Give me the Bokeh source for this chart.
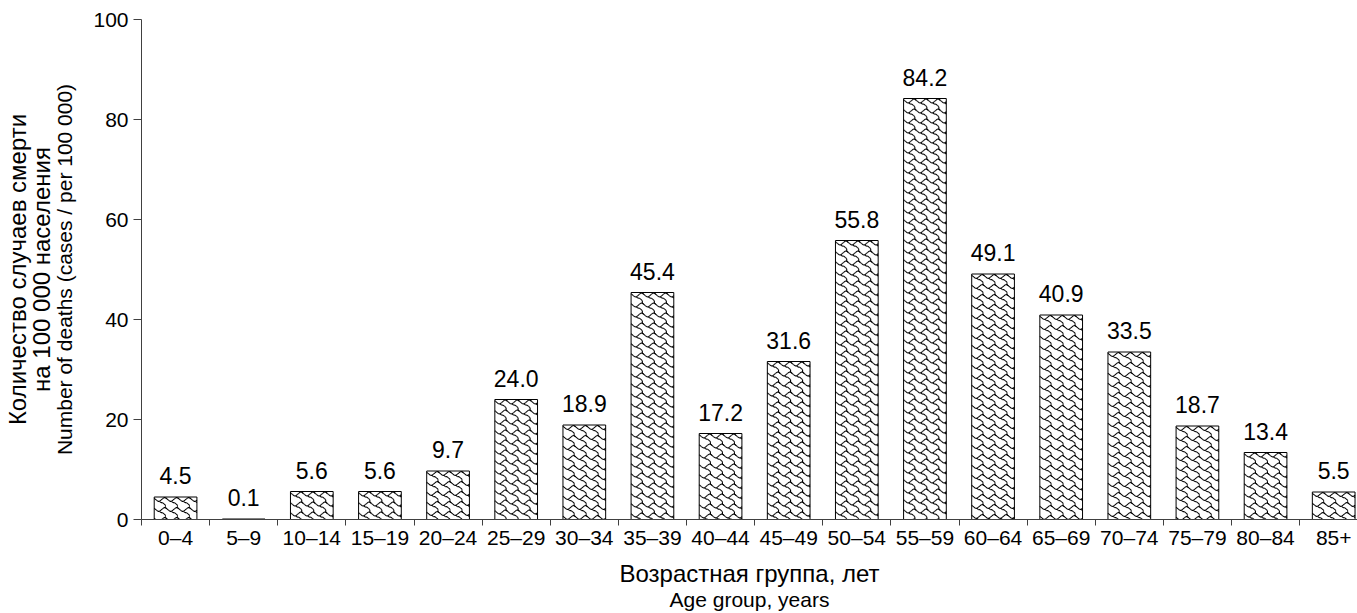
import math
from bokeh.plotting import figure
from bokeh.models import ColumnDataSource, Range1d, FixedTicker, LabelSet, Title
from bokeh.core.properties import value
from bokeh.embed import file_html
from bokeh.resources import INLINE

# ---- data ----
age_groups = ["0–4", "5–9", "10–14", "15–19", "20–24", "25–29", "30–34", "35–39",
              "40–44", "45–49", "50–54", "55–59", "60–64", "65–69", "70–74", "75–79",
              "80–84", "85+"]
death_rates = [4.5, 0.1, 5.6, 5.6, 9.7, 24.0, 18.9, 45.4, 17.2, 31.6,
               55.8, 84.2, 49.1, 40.9, 33.5, 18.7, 13.4, 5.5]
y_ticks = [0, 20, 40, 60, 80, 100]

y_title_ru_1 = "Количество случаев смерти"
y_title_ru_2 = "на 100 000 населения"
y_title_en = "Number of deaths (cases / per 100 000)"
x_title_ru = "Возрастная группа, лет"
x_title_en = "Age group, years"

FONT = "Liberation Sans"
AXIS_COLOR = "#404040"

# ---- layout constants ----
W, H = 1357, 613
LEFT, TOP, BOTTOM = 141, 19, 94
CAT_PX = 68.125                       # pixels per category
FRAME_W = W - LEFT
FRAME_H = H - TOP - BOTTOM
X_END = FRAME_W / CAT_PX
Y_MAX = 100
PX_PER_Y = FRAME_H / Y_MAX
BAR_W = 0.627

n = len(age_groups)
centers = [i + 0.5 for i in range(n)]
boundaries = list(range(n + 1))


# ---- shingle fill pattern, built per bar in pixel space and mapped to data ----
_wave = [(-0.5, 0.5), (0.5, 1.5), (1.5, 2.5), (2.5, 3.5), (3.5, 3.5), (4.5, 2.5),
         (5.5, 1.5), (6.5, 0.5), (7.5, 0.5), (8.5, 1.5)]
_tail = [(3.5, 3.5), (4.5, 4.5), (5.5, 4.5), (6.5, 5.5), (7.5, 6.5), (7.5, 7.5),
         (7.5, 8.5)]
TILE_W, TILE_H = 12.0, 10.0
_segs = []
for _line in (_wave, _tail):
    for (a0, b0), (a1, b1) in zip(_line[:-1], _line[1:]):
        _segs.append((a0 * TILE_W / 8, b0 * TILE_H / 8, a1 * TILE_W / 8, b1 * TILE_H / 8))


def _clip(x0, y0, x1, y1, w, h):
    dx, dy = x1 - x0, y1 - y0
    t0, t1 = 0.0, 1.0
    for pp, qq in ((-dx, x0), (dx, w - x0), (-dy, y0), (dy, h - y0)):
        if pp == 0:
            if qq < 0:
                return None
        else:
            r = qq / pp
            if pp < 0:
                t0 = max(t0, r)
            else:
                t1 = min(t1, r)
            if t0 > t1:
                return None
    return (x0 + t0 * dx, y0 + t0 * dy, x0 + t1 * dx, y0 + t1 * dy)


pat_xs, pat_ys = [], []
for c, v in zip(centers, death_rates):
    bw = BAR_W * CAT_PX
    bh = v * PX_PER_Y
    if bh < 2:
        continue
    left_data = c - BAR_W / 2
    nx = int(math.ceil(bw / TILE_W)) + 1
    ny = int(math.ceil(bh / TILE_H)) + 1
    for ty in range(ny):
        for tx in range(nx):
            ox, oy = tx * TILE_W, ty * TILE_H
            for (x0, y0, x1, y1) in _segs:
                s = _clip(ox + x0, oy + y0, ox + x1, oy + y1, bw, bh)
                if s is None:
                    continue
                pat_xs.append([left_data + s[0] / CAT_PX, left_data + s[2] / CAT_PX])
                pat_ys.append([v - s[1] / PX_PER_Y, v - s[3] / PX_PER_Y])

src = ColumnDataSource(dict(
    x=centers,
    top=death_rates,
    label=[f"{v:.1f}" for v in death_rates],
))

p = figure(width=W, height=H, output_backend="svg", toolbar_location=None,
           x_range=Range1d(0, X_END), y_range=Range1d(0, Y_MAX),
           min_border_left=LEFT, min_border_top=TOP, min_border_right=0,
           min_border_bottom=BOTTOM)
p.outline_line_color = None
p.grid.visible = False
p.background_fill_color = "white"
p.border_fill_color = "white"

p.vbar(x="x", top="top", bottom=0, width=BAR_W, source=src,
       fill_color="white", line_color=None)
p.multi_line(xs=pat_xs, ys=pat_ys, line_color="black", line_width=1.1)
p.vbar(x="x", top="top", bottom=0, width=BAR_W, source=src,
       fill_color=None, line_color="black", line_width=1)

labels = LabelSet(x="x", y="top", text="label", source=src,
                  text_align="center", text_baseline="alphabetic", y_offset=13,
                  text_font=value(FONT), text_font_size=value("23px"),
                  text_color="black")
p.add_layout(labels)

# x axis
xa = p.xaxis[0]
xa.ticker = FixedTicker(ticks=centers, minor_ticks=boundaries)
xa.major_label_overrides = {c: lab for c, lab in zip(centers, age_groups)}
xa.major_tick_line_color = None
xa.major_tick_out = 0
xa.major_tick_in = 0
xa.minor_tick_out = 6
xa.minor_tick_in = 0
xa.minor_tick_line_color = AXIS_COLOR
xa.axis_line_color = AXIS_COLOR
xa.major_label_standoff = 0
xa.major_label_text_font = FONT
xa.major_label_text_font_size = "21px"
xa.major_label_text_color = "black"
xa.axis_label = x_title_ru
xa.axis_label_text_font = FONT
xa.axis_label_text_font_size = "24px"
xa.axis_label_text_font_style = "normal"
xa.axis_label_text_color = "black"
xa.axis_label_standoff = 8

# y axis
ya = p.yaxis[0]
ya.ticker = FixedTicker(ticks=y_ticks)
ya.minor_tick_line_color = None
ya.major_tick_out = 8
ya.major_tick_in = 0
ya.major_tick_line_color = AXIS_COLOR
ya.axis_line_color = AXIS_COLOR
ya.major_label_standoff = 5
ya.major_label_text_font = FONT
ya.major_label_text_font_size = "21px"
ya.major_label_text_color = "black"
ya.axis_label = y_title_en
ya.axis_label_text_font = FONT
ya.axis_label_text_font_size = "21px"
ya.axis_label_text_font_style = "normal"
ya.axis_label_text_color = "black"
ya.axis_label_standoff = 14

# extra titles
p.add_layout(Title(text=x_title_en, align="center", text_font=FONT,
                   text_font_size="21px", text_font_style="normal",
                   text_color="black", standoff=-8), "below")
p.add_layout(Title(text=y_title_ru_2, align="center", text_font=FONT,
                   text_font_size="24px", text_font_style="normal",
                   text_color="black", standoff=-8), "left")
p.add_layout(Title(text=y_title_ru_1, align="center", text_font=FONT,
                   text_font_size="24px", text_font_style="normal",
                   text_color="black", standoff=-3), "left")

open("out.html", "w").write(file_html(p, INLINE))
